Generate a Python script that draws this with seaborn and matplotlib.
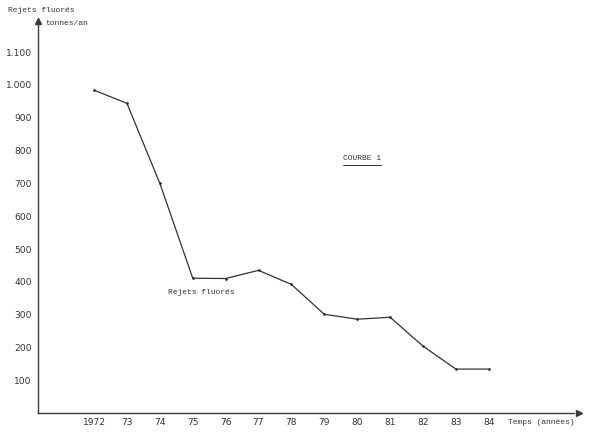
import matplotlib
matplotlib.use("Agg")
import matplotlib.pyplot as plt
import seaborn as sns
import pandas as pd

years = [1972, 1973, 1974, 1975, 1976, 1977, 1978, 1979, 1980, 1981, 1982, 1983, 1984]
rejets = [984, 944, 700, 411, 410, 435, 392, 301, 286, 292, 204, 134, 134]
xtick_labels = ["1972", "73", "74", "75", "76", "77", "78", "79", "80", "81", "82", "83", "84"]
yticks = [100, 200, 300, 400, 500, 600, 700, 800, 900, 1000, 1100]
ytick_labels = ["100", "200", "300", "400", "500", "600", "700", "800", "900", "1.000", "1.100"]

sns.set_style("white")
plt.rcParams["font.family"] = ["DejaVu Sans"]

fig = plt.figure(figsize=(5.95, 4.36), dpi=100)
ax = fig.add_axes([0, 0, 1, 1])
ax.set_xlim(1969.14, 1987.23)
ax.set_ylim(-70, 1259)

df = pd.DataFrame({"annee": years, "rejets": rejets})
sns.lineplot(data=df, x="annee", y="rejets", ax=ax, color="#333333", linewidth=0.9,
             marker="o", markersize=2, markeredgewidth=0)

ink = "#3a3a3a"
axis_x = 1970.3
for s in ["top", "right"]:
    ax.spines[s].set_visible(False)
ax.spines["left"].set_position(("data", axis_x))
ax.spines["bottom"].set_position(("data", 0))
ax.spines["left"].set_bounds(0, 1190)
ax.spines["bottom"].set_bounds(axis_x, 1986.6)
for s in ["left", "bottom"]:
    ax.spines[s].set_color(ink)
    ax.spines[s].set_linewidth(1.0)

# arrow heads
ax.plot([axis_x], [1195], marker="^", color=ink, markersize=4, clip_on=False)
ax.plot([1986.75], [0], marker=">", color=ink, markersize=4, clip_on=False)

ax.set_xticks(years)
ax.set_xticklabels(xtick_labels)
ax.set_yticks(yticks)
ax.set_yticklabels(ytick_labels)
ax.tick_params(axis="both", direction="inout", length=3, width=0.8, color=ink,
               labelsize=6.6, labelcolor="#333333")
ax.tick_params(axis="y", pad=3)
ax.tick_params(axis="x", pad=2)
ax.set_xlabel("")
ax.set_ylabel("")

mono = "Liberation Mono"
fs = 5.8
ax.text(0.013, 0.985, "Rejets fluorés", transform=ax.transAxes, fontsize=fs, family=mono,
        color="#333333", va="top", ha="left")
ax.text(0.076, 0.955, "tonnes/an", transform=ax.transAxes, fontsize=fs, family=mono,
        color="#333333", va="top", ha="left")
ax.text(0.853, 0.030, "Temps (années)", transform=ax.transAxes, fontsize=fs, family=mono,
        color="#333333", va="center", ha="left")
ax.text(0.577, 0.636, "COURBE 1", transform=ax.transAxes, fontsize=fs, family=mono,
        color="#333333", va="center", ha="left")
ax.plot([0.577, 0.641], [0.622, 0.622], transform=ax.transAxes, color="#333333", linewidth=0.7)
ax.text(0.282, 0.328, "Rejets fluorés", transform=ax.transAxes, fontsize=fs, family=mono,
        color="#333333", va="center", ha="left")

fig.savefig("out.png", dpi=100)
